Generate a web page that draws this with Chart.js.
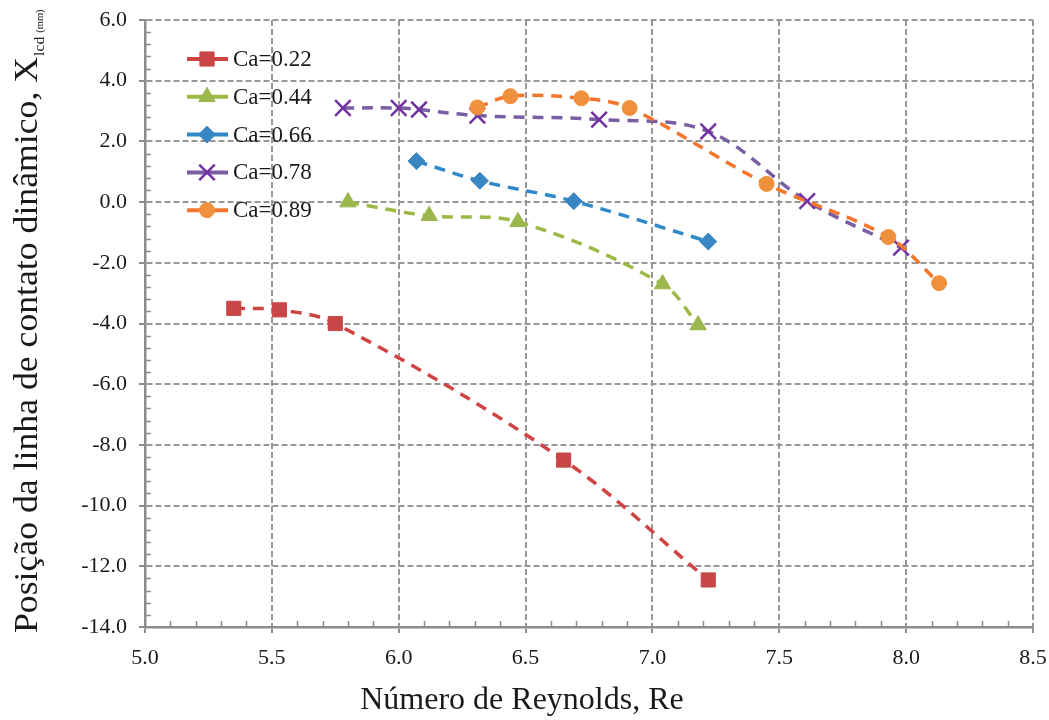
<!DOCTYPE html>
<html lang="pt">
<head>
<meta charset="UTF-8">
<title>Posição da linha de contato dinâmico x Reynolds</title>
<script src="https://cdn.jsdelivr.net/npm/chart.js"></script>
<style>
  html, body { margin: 0; padding: 0; background: #fff; }
</style>
</head>
<body>
<canvas id="grafico" width="1049" height="720"></canvas>
<script>
// dados
const seriesLabels = ['Ca=0.22', 'Ca=0.44', 'Ca=0.66', 'Ca=0.78', 'Ca=0.89'];

const re022  = [5.35, 5.53, 5.75, 6.65, 7.22];
const pos022 = [-3.5, -3.55, -4.0, -8.5, -12.45];

const re044  = [5.80, 6.12, 6.47, 7.04, 7.18];
const pos044 = [0.0, -0.45, -0.65, -2.7, -4.05];

const re066  = [6.07, 6.32, 6.69, 7.22];
const pos066 = [1.35, 0.7, 0.03, -1.3];

const re078  = [5.78, 6.0, 6.08, 6.31, 6.79, 7.22, 7.61, 7.98];
const pos078 = [3.1, 3.1, 3.05, 2.85, 2.72, 2.33, 0.03, -1.5];

const re089  = [6.31, 6.44, 6.72, 6.91, 7.45, 7.93, 8.13];
const pos089 = [3.12, 3.49, 3.42, 3.1, 0.6, -1.15, -2.67];

const xTickLabels = ['5.0', '5.5', '6.0', '6.5', '7.0', '7.5', '8.0', '8.5'];
const yTickLabels = ['-14.0', '-12.0', '-10.0', '-8.0', '-6.0', '-4.0', '-2.0', '0.0', '2.0', '4.0', '6.0'];

const fonte = 'Liberation Serif, Times New Roman, serif';

function pontos(xs, ys) {
    return xs.map((x, i) => ({ x: x, y: ys[i] }));
}

function serie(label, xs, ys, linha, marcador, estilo, raio, ordem) {
    return {
        label: label,
        data: pontos(xs, ys),
        borderColor: linha,
        borderWidth: 3.5,
        borderDash: [11, 8],
        tension: 0.35,
        fill: false,
        pointStyle: estilo,
        pointRadius: raio,
        pointBackgroundColor: marcador,
        pointBorderColor: marcador,
        pointBorderWidth: estilo === 'crossRot' ? 2.5 : 1,
        order: ordem
    };
}

const datasets = [
    serie(seriesLabels[0], re022, pos022, '#d04343', '#c94646', 'rect', 10, 4),
    serie(seriesLabels[1], re044, pos044, '#9cb945', '#9bb74d', 'triangle', 9.5, 3),
    serie(seriesLabels[2], re066, pos066, '#2f88c8', '#3a86c2', 'rectRot', 8.5, 2),
    serie(seriesLabels[3], re078, pos078, '#7a5ea3', '#7033a0', 'crossRot', 11, 1),
    serie(seriesLabels[4], re089, pos089, '#f2762b', '#ef913c', 'circle', 7.5, 0)
];

// marcas menores (x a cada 0.1, y a cada 0.4), para dentro da área
const minorTicks = {
    id: 'minorTicks',
    afterDraw(chart) {
        const ctx = chart.ctx, xs = chart.scales.x, ys = chart.scales.y;
        const area = chart.chartArea;
        ctx.save();
        ctx.strokeStyle = '#8c8c8c';
        ctx.lineWidth = 1.5;
        ctx.beginPath();
        for (let i = 1; i < 35; i++) {
            if (i % 5 === 0) continue;
            const px = Math.round(xs.getPixelForValue(5 + i * 0.1)) + 0.5;
            ctx.moveTo(px, area.bottom);
            ctx.lineTo(px, area.bottom - 6);
        }
        for (let j = 1; j < 50; j++) {
            if (j % 5 === 0) continue;
            const py = Math.round(ys.getPixelForValue(-14 + j * 0.4)) + 0.5;
            ctx.moveTo(area.left, py);
            ctx.lineTo(area.left + 6, py);
        }
        ctx.stroke();
        ctx.restore();
    }
};

// legenda dentro da área, com linha + marcador
const legendaInterna = {
    id: 'legendaInterna',
    afterDraw(chart) {
        const ctx = chart.ctx;
        chart.data.datasets.forEach((ds, i) => {
            const y = 59 + i * 37.8;
            ctx.save();
            ctx.strokeStyle = ds.borderColor;
            ctx.lineWidth = 4;
            ctx.beginPath();
            ctx.moveTo(187, y);
            ctx.lineTo(228, y);
            ctx.stroke();
            ctx.fillStyle = ds.pointBackgroundColor;
            ctx.strokeStyle = ds.pointBorderColor;
            ctx.lineWidth = ds.pointBorderWidth;
            Chart.helpers.drawPoint(ctx, { pointStyle: ds.pointStyle, radius: ds.pointRadius, borderWidth: ds.pointBorderWidth }, 207, y);
            ctx.fillStyle = '#1a1a1a';
            ctx.font = '23px ' + fonte;
            ctx.textBaseline = 'middle';
            ctx.fillText(ds.label, 233, y + 1);
            ctx.restore();
        });
    }
};

// títulos dos eixos (o do y tem subscrito)
const titulos = {
    id: 'titulos',
    afterDraw(chart) {
        const ctx = chart.ctx;
        ctx.save();
        ctx.fillStyle = '#1a1a1a';
        ctx.font = '32px ' + fonte;
        ctx.textAlign = 'center';
        ctx.textBaseline = 'alphabetic';
        ctx.fillText('Número de Reynolds, Re', 522, 709);
        ctx.restore();

        ctx.save();
        ctx.translate(37, 633);
        ctx.rotate(-Math.PI / 2);
        ctx.scale(1.05, 1);
        ctx.fillStyle = '#1a1a1a';
        ctx.font = '34px ' + fonte;
        ctx.textBaseline = 'alphabetic';
        const principal = 'Posição da linha de contato dinâmico, X';
        ctx.fillText(principal, 0, 0);
        let w = ctx.measureText(principal).width + 1;
        ctx.font = '15px ' + fonte;
        ctx.fillText('lcd', w, 7);
        w += ctx.measureText('lcd ').width;
        ctx.font = '10px ' + fonte;
        ctx.fillText('(mm)', w, 6);
        ctx.restore();
    }
};

new Chart(document.getElementById('grafico'), {
    type: 'line',
    data: { datasets: datasets },
    options: {
        responsive: false,
        animation: false,
        layout: { padding: { top: 20, right: 16, left: 0, bottom: 0 } },
        plugins: {
            legend: { display: false },
            tooltip: { enabled: false }
        },
        scales: {
            x: {
                type: 'linear',
                min: 5, max: 8.5,
                afterFit: s => { s.height = 93; s.paddingLeft = 0; s.paddingRight = 0; },
                ticks: {
                    stepSize: 0.5,
                    maxRotation: 0,
                    padding: 12,
                    color: '#1a1a1a',
                    font: { family: fonte, size: 22 },
                    callback: (v, i) => xTickLabels[i]
                },
                grid: { color: '#979797', lineWidth: 2, tickLength: 6, tickColor: '#8c8c8c', tickWidth: 2 },
                border: { display: true, color: '#8c8c8c', width: 2.5, dash: [6, 3] }
            },
            y: {
                type: 'linear',
                min: -14, max: 6,
                afterFit: s => { s.width = 145; s.paddingTop = 0; s.paddingBottom = 0; },
                ticks: {
                    stepSize: 2,
                    padding: 12,
                    color: '#1a1a1a',
                    font: { family: fonte, size: 22 },
                    callback: (v, i) => yTickLabels[i]
                },
                grid: { color: '#979797', lineWidth: 2, tickLength: 6, tickColor: '#8c8c8c', tickWidth: 2 },
                border: { display: true, color: '#8c8c8c', width: 2.5, dash: [6, 3] }
            }
        }
    },
    plugins: [minorTicks, legendaInterna, titulos]
});
</script>
</body>
</html>
